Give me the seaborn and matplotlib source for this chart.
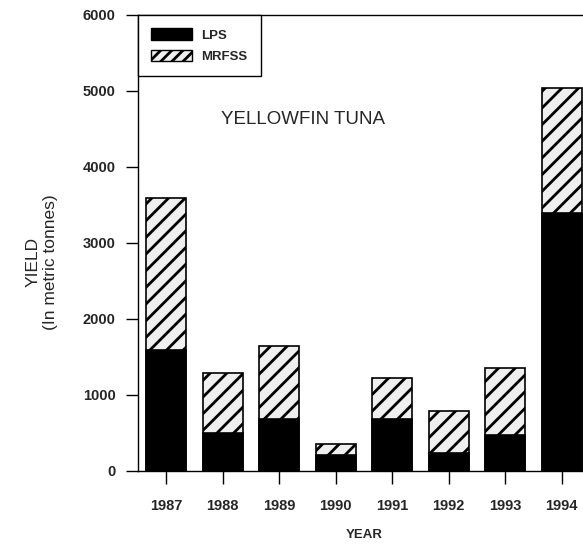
import matplotlib
matplotlib.use("Agg")
import matplotlib.pyplot as plt
import pandas as pd
import seaborn as sns
from matplotlib.patches import Patch

# Yellowfin tuna yield (metric tonnes)
years = ['1987', '1988', '1989', '1990', '1991', '1992', '1993', '1994']
lps = [1590, 500, 680, 210, 680, 240, 470, 3400]
mrfss = [2000, 790, 970, 140, 540, 550, 885, 1640]

df = pd.DataFrame({'year': years, 'LPS': lps, 'MRFSS': mrfss})
df['total'] = df['LPS'] + df['MRFSS']

sns.set_style('ticks')
plt.rcParams['font.family'] = ['Liberation Sans', 'DejaVu Sans']
plt.rcParams['hatch.linewidth'] = 2.0

fig = plt.figure(figsize=(5.83, 5.44), dpi=100)
ax = fig.add_axes([138 / 583, 73 / 544, 452 / 583, 456 / 544])

# MRFSS stacked on top of LPS: draw totals hatched, then LPS in black
sns.barplot(data=df, x='year', y='total', color='#efefef', width=0.7,
            edgecolor='black', linewidth=1.2, hatch='//', saturation=1, ax=ax)
sns.barplot(data=df, x='year', y='LPS', color='black', width=0.7,
            edgecolor='black', linewidth=1.2, saturation=1, ax=ax)

ax.set_xlim(-0.5, 7.5)
ax.set_ylim(0, 6000)
ax.set_yticks(range(0, 6001, 1000))
for s in ['left', 'bottom', 'top']:
    ax.spines[s].set_color('black')
    ax.spines[s].set_linewidth(1.0)
ax.spines['right'].set_visible(False)
ax.tick_params(axis='both', direction='out', length=9, width=1, color='black',
               labelsize=10.5)
ax.tick_params(axis='x', pad=11)
ax.tick_params(axis='y', pad=7)
for lab in ax.get_xticklabels() + ax.get_yticklabels():
    lab.set_fontweight('bold')

ax.set_xlabel('YEAR', fontsize=9.5, fontweight='bold', labelpad=12)
ax.set_ylabel('YIELD\n(In metric tonnes)', fontsize=12.5)
ax.yaxis.set_label_coords(-0.177, 0.458)

ax.text(2.42, 4630, 'YELLOWFIN TUNA', fontsize=13.5, ha='center', va='center')

handles = [Patch(facecolor='black', edgecolor='black', label='LPS'),
           Patch(facecolor='#efefef', edgecolor='black', hatch='///', label='MRFSS')]
leg = ax.legend(handles=handles, loc='upper left', bbox_to_anchor=(0, 1),
                borderaxespad=0, fancybox=False, edgecolor='black',
                framealpha=1, handlelength=3.1, handleheight=1.0,
                prop={'size': 9.5, 'weight': 'bold'}, borderpad=1.0,
                labelspacing=0.6, handletextpad=0.7)
leg.get_frame().set_linewidth(1.0)

fig.savefig('out.png', dpi=100)
